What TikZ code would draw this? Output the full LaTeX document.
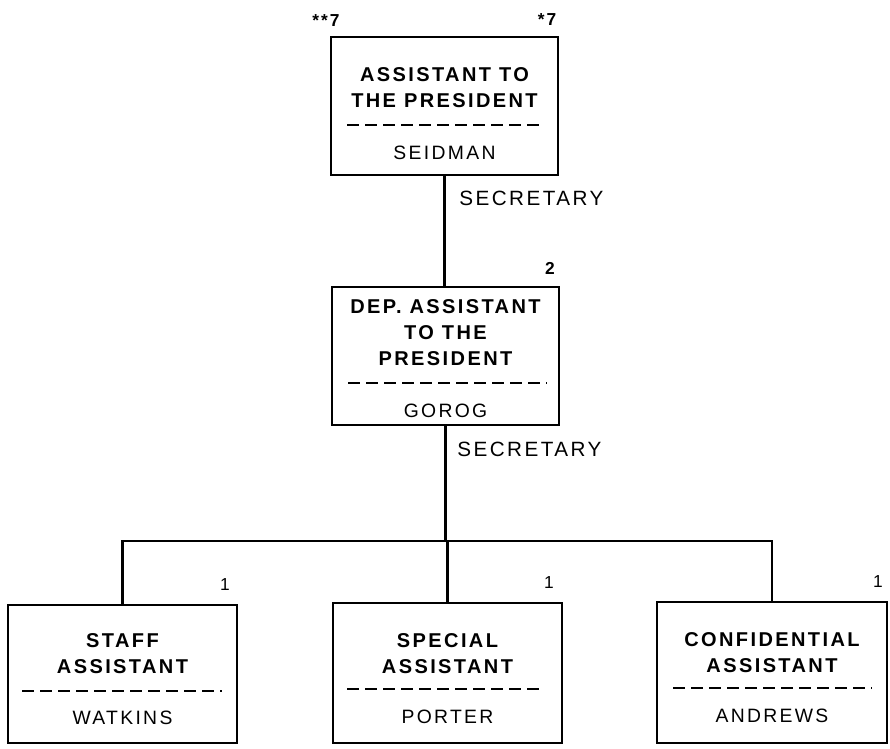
\documentclass[tikz,border=0pt]{standalone}
\usepackage{fontspec}
\newfontfamily\cf[LetterSpace=12]{Liberation Sans}
\begin{document}
\begin{tikzpicture}[x=0.75pt,y=-0.75pt,
  orgbox/.style={draw,line width=2pt,rectangle,inner sep=0pt},
  boxtitle/.style={font=\cf\bfseries\fontsize{15pt}{19.5pt}\selectfont,align=center,inner sep=0pt},
  pname/.style={font=\cf\fontsize{14.5pt}{16pt}\selectfont,inner sep=0pt},
  numlab/.style={font=\cf\bfseries\fontsize{13pt}{15pt}\selectfont,inner sep=0pt},
  onelab/.style={font=\cf\fontsize{13pt}{15pt}\selectfont,inner sep=0pt},
  sepline/.style={dash pattern=on 9pt off 4.5pt,line width=1.8pt},
  conn/.style={line width=1.8pt}]
\useasboundingbox (0,0) rectangle (890,749);
% boxes
\node[orgbox,minimum width=170.25pt,minimum height=103.5pt] (top) at (444.5,106) {};
\node[orgbox,minimum width=170.25pt,minimum height=103.5pt] (mid) at (445.5,356) {};
\node[orgbox,minimum width=171.75pt,minimum height=103.5pt] (lb) at (122.5,674) {};
\node[orgbox,minimum width=171.75pt,minimum height=105pt] (mb) at (447.5,673) {};
\node[orgbox,minimum width=172.5pt,minimum height=105.75pt] (rb) at (772,672.5) {};
% titles
\node[boxtitle] (tt) at (444.5,88) {ASSISTANT TO\\THE PRESIDENT};
\node[boxtitle] (mt) at (445.5,333) {DEP. ASSISTANT\\TO THE\\PRESIDENT};
\node[boxtitle] (lt) at (122.5,654) {STAFF\\ASSISTANT};
\node[boxtitle] (mbt) at (447.5,654) {SPECIAL\\ASSISTANT};
\node[boxtitle] (rt) at (772,652.5) {CONFIDENTIAL\\ASSISTANT};
% names
\node[pname] (tn) at (444.5,153) {SEIDMAN};
\node[pname] (mn) at (445.5,411) {GOROG};
\node[pname] (ln) at (122.5,717.5) {WATKINS};
\node[pname] (mbn) at (447.5,717) {PORTER};
\node[pname] (rn) at (772,716) {ANDREWS};
% dashed separators
\draw[sepline] (347,125) -- (545,125);
\draw[sepline] (348,383) -- (547,383);
\draw[sepline] (22,691) -- (222,691);
\draw[sepline] (347,689) -- (545,689);
\draw[sepline] (673,688) -- (872,688);
% numbers
\node[numlab] (n1) at (326,21) {**7};
\node[numlab] (n2) at (547,20) {*7};
\node[numlab] (n3) at (550,268) {2};
\node[onelab] (n4) at (225,585) {1};
\node[onelab] (n5) at (549,583) {1};
\node[onelab] (n6) at (878,582) {1};
% secretary labels
\node[pname,anchor=west,font=\cf\fontsize{15.5pt}{17pt}\selectfont] (s1) at (459,198) {SECRETARY};
\node[pname,anchor=west,font=\cf\fontsize{15.5pt}{17pt}\selectfont] (s2) at (457,449) {SECRETARY};
% connectors
\coordinate (bus) at (445,541);
\draw[conn] (top.south) -- (top.south |- mid.north);
\draw[conn] (mid.south) -- (mid.south |- bus);
\draw[conn] (lb.north) |- (rb.north |- bus) -- (rb.north);
\draw[conn] (mb.north) -- (mb.north |- bus);
\end{tikzpicture}
\end{document}
